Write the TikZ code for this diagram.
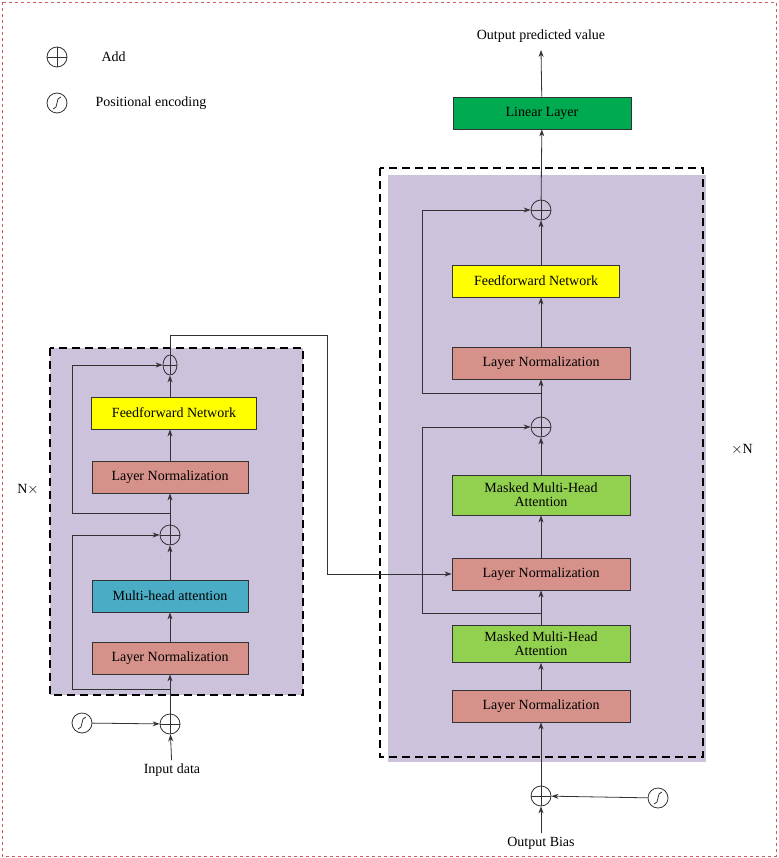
\documentclass[tikz,border=0pt]{standalone}
\usepackage{fontspec}
\setmainfont{Liberation Serif}
\usetikzlibrary{arrows.meta,shapes.geometric}
\definecolor{lav}{RGB}{204,194,220}
\definecolor{pinkb}{RGB}{214,145,138}
\definecolor{yel}{RGB}{255,255,0}
\definecolor{blu}{RGB}{75,172,198}
\definecolor{grn}{RGB}{0,170,80}
\definecolor{lgrn}{RGB}{146,208,80}
\definecolor{redd}{RGB}{210,90,90}
\begin{document}
\begin{tikzpicture}[x=1pt,y=-1pt,
  box/.style={draw=black!80,line width=0.8pt,minimum height=32pt,inner sep=2pt,font=\fontsize{14}{15}\selectfont,align=center},
  add/.style={draw=black!80,circle,line width=0.8pt,minimum size=20pt,inner sep=0pt,path picture={\draw[black!80,line width=0.8pt] (path picture bounding box.north)--(path picture bounding box.south) (path picture bounding box.west)--(path picture bounding box.east);}},
  pe/.style={draw=black!80,circle,line width=0.8pt,minimum size=20pt,inner sep=0pt,path picture={\draw[black!80,line width=0.8pt] ([xshift=-4pt,yshift=-6pt]path picture bounding box.center) .. controls +(6pt,0pt) and +(-6pt,0pt) .. ([xshift=4pt,yshift=6pt]path picture bounding box.center);}},
  arr/.style={-{Stealth[length=7pt,width=5pt]},line width=0.8pt,black!80},
  txt/.style={font=\fontsize{14}{15}\selectfont}]
\useasboundingbox (0,0) rectangle (778,858);
\draw[redd,dashed,line width=0.8pt] (2,2) rectangle (776,856);
% legend
\node[add] (la) at (57,57) {};
\node[txt,anchor=west] (lat) at (98,57) {Add};
\node[pe] (lp) at (57,103) {};
\node[txt,anchor=west] (lpt) at (92,103) {Positional encoding};
% left block
\draw[fill=lav,line width=1.4pt,dash pattern=on 8pt off 5pt] (50,348) rectangle (303,695);
\node[txt] (nx) at (28,490) {N$\times$};
\node[add,ellipse,minimum width=14pt,minimum height=20pt] (a1) at (170,365) {};
\node[box,fill=yel,minimum width=165pt] (ffl) at (174,413) {Feedforward Network};
\node[box,fill=pinkb,minimum width=156pt] (ln1) at (170,477) {Layer Normalization};
\node[add] (a2) at (170,535) {};
\node[box,fill=blu,minimum width=156pt] (mha) at (170,596) {Multi-head attention};
\node[box,fill=pinkb,minimum width=156pt] (ln0) at (170,658) {Layer Normalization};
\node[add] (a0) at (170,724) {};
\node[pe] (p0) at (82,723) {};
\node[txt] (in) at (172,770) {Input data};
\coordinate (s1) at (170,689);
\coordinate (s2) at (170,513);
\draw[arr] (in) -- (a0);
\draw[arr] (p0) -- (a0);
\draw[arr] (a0) -- (ln0);
\draw[arr] (ln0) -- (mha);
\draw[arr] (mha) -- (a2);
\draw[arr] (a2) -- (ln1);
\draw[arr] (ln1) -- (ffl.south -| ln1);
\draw[arr] (ffl.north -| a1) -- (a1);
\draw[arr] (s1) -| (72,535) -- (a2);
\draw[arr] (s2) -| (72,365) -- (a1);
% right block
\draw[fill=lav,draw=none] (388,175) rectangle (706,762);
\draw[line width=1.4pt,dash pattern=on 8pt off 5pt] (380,168) rectangle (703,757);
\node[txt] (xn) at (742,450) {$\times$N};
\node[txt] (out) at (541,36) {Output predicted value};
\node[box,fill=grn,minimum width=178pt] (lin) at (542,113) {Linear Layer};
\node[add] (b3) at (541,210) {};
\node[box,fill=yel,minimum width=167pt] (ffr) at (536,281) {Feedforward Network};
\node[box,fill=pinkb,minimum width=178pt] (ln4) at (541,363) {Layer Normalization};
\node[add] (b2) at (541,427) {};
\node[box,fill=lgrn,minimum width=178pt,minimum height=40pt,font=\fontsize{14}{14}\selectfont] (mm2) at (541,495) {Masked Multi-Head\\Attention};
\node[box,fill=pinkb,minimum width=178pt] (ln3) at (541,574) {Layer Normalization};
\node[box,fill=lgrn,minimum width=178pt,minimum height=37pt,font=\fontsize{14}{14}\selectfont] (mm1) at (541,644) {Masked Multi-Head\\Attention};
\node[box,fill=pinkb,minimum width=178pt] (ln2) at (541,706) {Layer Normalization};
\node[add] (b0) at (541,796) {};
\node[pe] (p1) at (658,798) {};
\node[txt] (ob) at (541,843) {Output Bias};
\coordinate (r1) at (541,613);
\coordinate (r2) at (541,393);
\draw[arr] (ob) -- (b0);
\draw[arr] (p1) -- (b0);
\draw[arr] (b0) -- (ln2);
\draw[arr] (ln2) -- (mm1);
\draw[arr] (mm1) -- (ln3);
\draw[arr] (ln3) -- (mm2);
\draw[arr] (mm2) -- (b2);
\draw[arr] (b2) -- (ln4);
\draw[arr] (ln4) -- (ffr.south -| ln4);
\draw[arr] (ffr.north -| b3) -- (b3);
\draw[arr] (b3) -- (lin);
\draw[arr] (lin) -- (541,50);
\draw[arr] (r1) -| (422,427) -- (b2);
\draw[arr] (r2) -| (422,210) -- (b3);
% cross connection
\draw[arr] (a1) -- (170,335) -| (327,574) -- (ln3);
\end{tikzpicture}
\end{document}
